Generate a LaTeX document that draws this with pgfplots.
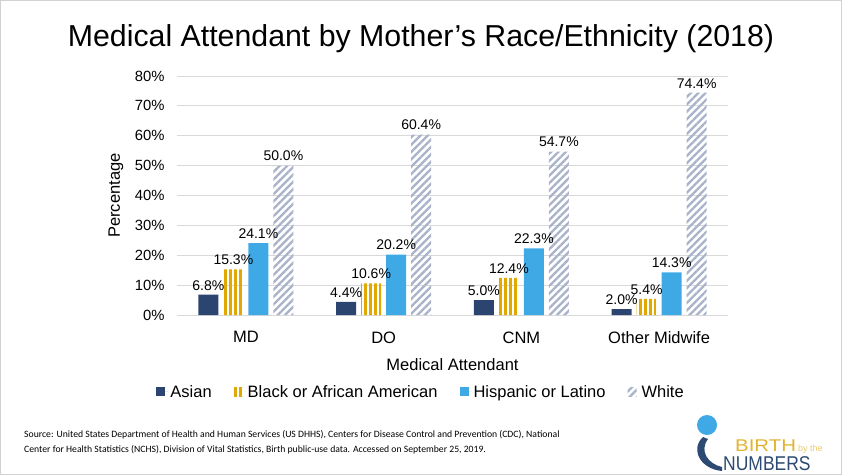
\documentclass[border=0pt]{standalone}
\usepackage{pgfplots}
\pgfplotsset{compat=1.18}
\usepackage{fontspec}
\setmainfont{Liberation Sans}
\newfontfamily\srcfont{Carlito}
\usetikzlibrary{patterns.meta}
\definecolor{asian}{HTML}{2B4570}
\definecolor{blackc}{HTML}{E0A800}
\definecolor{hisp}{HTML}{3FA9E5}
\definecolor{whitec}{HTML}{A8B3CA}
\definecolor{gridc}{HTML}{D9D9D9}
\definecolor{logogold}{HTML}{E2B231}
\definecolor{logonavy}{HTML}{2C4A72}

\pgfplotstableread{
x asian black hisp white
0 6.8 15.3 24.1 50.0
1 4.4 10.6 20.2 60.4
2 5.0 12.4 22.3 54.7
3 2.0 5.4 14.3 74.4
}\datatable

\begin{document}
\begin{tikzpicture}[x=1pt,y=1pt]
\useasboundingbox (0,0) rectangle (842,475);
\draw[gray!35] (0.5,0.5) rectangle (841.5,474.5);
\node[font=\fontsize{30.3}{36}\selectfont] at (421,436) {Medical Attendant by Mother’s Race/Ethnicity (2018)};
\begin{axis}[
  at={(177pt,160pt)}, anchor=south west,
  scale only axis, width=551pt, height=239pt,
  ybar=5pt, bar width=20pt,
  xmin=-0.5, xmax=3.5, ymin=0, ymax=80,
  xtick={0,1,2,3}, xticklabels={MD,DO,CNM,Other Midwife},
  ytick={0,10,...,80},
  yticklabel={\pgfmathprintnumber{\tick}\%},
  /pgf/number format/assume math mode=true,
  axis x line*=bottom, axis y line*=left,
  x axis line style={gridc, line width=0.8pt},
  y axis line style={draw=none},
  major tick length=0pt,
  ymajorgrids, grid style={gridc, line width=0.8pt},
  yticklabel style={font=\fontsize{14.8}{16}\selectfont, text=black, xshift=-9pt},
  xticklabel style={font=\fontsize{16.5}{18}\selectfont, text=black, yshift=-13pt},
  xlabel={Medical Attendant}, ylabel={Percentage},
  every axis y label/.style={at={(axis description cs:-0.1107,0.5)}, rotate=90, anchor=center, font=\fontsize{16.5}{18}\selectfont},
  every axis x label/.style={at={(axis description cs:0.5,-0.209)}, anchor=center, font=\fontsize{16.5}{18}\selectfont},
  nodes near coords={\pgfmathprintnumber[fixed,fixed zerofill,precision=1]{\pgfplotspointmeta}\%},
  nodes near coords style={font=\fontsize{14}{16}\selectfont, text=black, anchor=south, yshift=1pt},
  legend style={at={(axis description cs:0.443,-0.322)}, anchor=center, draw=none,
    legend columns=4, font=\fontsize{16.5}{18}\selectfont,
    /tikz/every even column/.append style={column sep=20pt}},
  legend image code/.code={\path[#1,draw=none] (0pt,-4.5pt) rectangle (9pt,4.5pt); \path (0pt,0pt) -- (12pt,0pt);},
  clip=false,
]
\addplot[fill=asian, draw=none] table[x=x,y=asian] {\datatable};
\addplot[draw=none, fill=white, pattern={Lines[angle=90,distance=5pt,line width=3pt]}, pattern color=blackc] table[x=x,y=black] {\datatable};
\addplot[fill=hisp, draw=none] table[x=x,y=hisp] {\datatable};
\addplot[draw=none, fill=white, pattern={Lines[angle=45,distance=5.2pt,line width=2.3pt]}, pattern color=whitec] table[x=x,y=white] {\datatable};
\legend{Asian, Black or African American, Hispanic or Latino, White}
\end{axis}
\node[font=\srcfont\fontsize{9.7}{15.5}\selectfont, anchor=north west, align=left, inner sep=0pt] at (24,45) {Source: United States Department of Health and Human Services (US DHHS), Centers for Disease Control and Prevention (CDC), National\\Center for Health Statistics (NCHS), Division of Vital Statistics, Birth public-use data. Accessed on September 25, 2019.};
% logo
\fill[hisp] (707,50) circle (10);
\fill[logonavy] (703,38) .. controls (690,26) and (700,6) .. (722,4) -- (722,8) .. controls (708,11) and (699,24) .. (708,36) -- cycle;
\node[font=\fontsize{17}{20}\selectfont, text=logogold, anchor=base west, inner sep=0pt] at (735,24) {\scalebox{1.2}[1]{BIRTH}};
\node[font=\fontsize{9}{10}\selectfont, text=logogold!70, anchor=base west, inner sep=0pt] at (798,24) {by the};
\node[font=\fontsize{19}{20}\selectfont, text=logonavy, anchor=base west, inner sep=0pt] at (723,5) {\scalebox{0.92}[1.05]{NUMBERS}};
\end{tikzpicture}
\end{document}
